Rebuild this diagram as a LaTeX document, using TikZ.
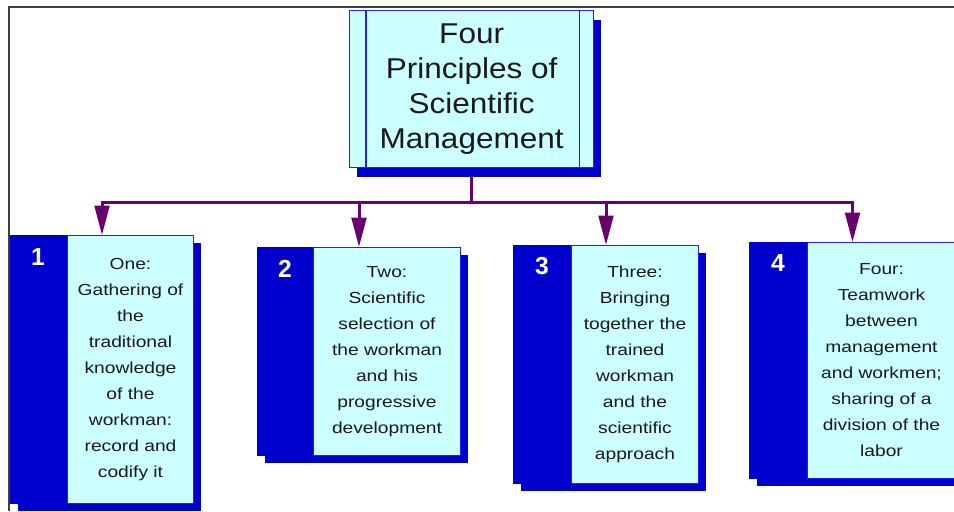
\documentclass[tikz,border=0pt]{standalone}
\usepackage{fontspec}
\setmainfont{Liberation Sans}
\newfontfamily\titlefont[FakeStretch=1.1]{Liberation Sans}
\newfontfamily\itemfont[FakeStretch=1.2]{Liberation Sans}
\usetikzlibrary{arrows.meta,shadows,calc,backgrounds}

\definecolor{tabblue}{RGB}{0,0,204}
\definecolor{paleblue}{RGB}{204,255,255}
\definecolor{edgeblue}{RGB}{30,30,255}
\definecolor{linkpurple}{RGB}{104,0,110}

\tikzset{
  pageframe/.style={line width=1.5pt, black!75},
  tabbox/.style={fill=tabblue, draw=tabblue, line width=.75pt, inner sep=0pt, anchor=north west,
    drop shadow={shadow xshift=5.25pt, shadow yshift=-5.25pt, fill=tabblue, opacity=1}},
  itembox/.style={fill=paleblue, draw=edgeblue, line width=.75pt, anchor=north east, align=center,
    inner sep=2pt, text=black!90, font=\itemfont\fontsize{12}{19.5}\selectfont},
  numlabel/.style={text=white, font=\bfseries\fontsize{18.5}{18.5}\selectfont},
  titlebox/.style={fill=paleblue, draw=edgeblue, line width=1pt, anchor=north west, align=center,
    minimum width=183pt, minimum height=117.75pt, text=black!90,
    font=\titlefont\fontsize{21.5}{26.25}\selectfont,
    drop shadow={shadow xshift=5.25pt, shadow yshift=-6.75pt, fill=tabblue, opacity=1}},
  link/.style={draw=linkpurple, line width=2.25pt},
  linkarrow/.style={link, -{Triangle[length=22pt,width=11pt]}}
}

\begin{document}
\begin{tikzpicture}[x=0.75pt,y=-0.75pt]
    \useasboundingbox (0,0) rectangle (954,511);
    \draw[pageframe] (9,511) -- (9,7) -- (954,7);

    % title
    \node[titlebox] (top) at (349,10) {Four\\Principles of\\Scientific\\Management};
    \draw[edgeblue, line width=1pt] ($(top.north west)+(17,0)$) -- ($(top.south west)+(17,0)$);
    \draw[edgeblue, line width=1pt] ($(top.north east)+(-15,0)$) -- ($(top.south east)+(-15,0)$);

    % the four principles
    \node[tabbox, minimum width=137.25pt, minimum height=201pt] (p1) at (10,235) {};
    \node[itembox, minimum width=94.5pt, minimum height=201pt] (t1) at (p1.north east)
        {One:\\Gathering of\\the\\traditional\\knowledge\\of the\\workman:\\record and\\codify it};
    \node[numlabel] (n1) at ($(p1.north west)+(28,22)$) {1};

    \node[tabbox, minimum width=152.25pt, minimum height=156pt] (p2) at (257,247) {};
    \node[itembox, minimum width=110.25pt, minimum height=156pt] (t2) at (p2.north east)
        {Two:\\Scientific\\selection of\\the workman\\and his\\progressive\\development};
    \node[numlabel] (n2) at ($(p2.north west)+(28,22)$) {2};

    \node[tabbox, minimum width=138.75pt, minimum height=178.5pt] (p3) at (513,245) {};
    \node[itembox, minimum width=95.25pt, minimum height=178.5pt] (t3) at (p3.north east)
        {Three:\\Bringing\\together the\\trained\\workman\\and the\\scientific\\approach};
    \node[numlabel] (n3) at ($(p3.north west)+(29,21)$) {3};

    \node[tabbox, minimum width=154.5pt, minimum height=177pt] (p4) at (749,242) {};
    \node[itembox, minimum width=111pt, minimum height=177pt] (t4) at (p4.north east)
        {Four:\\Teamwork\\between\\management\\and workmen;\\sharing of a\\division of the\\labor};
    \node[numlabel] (n4) at ($(p4.north west)+(29,21)$) {4};

    % connectors
    \coordinate (bar) at (top.south |- 0,202);
    \begin{scope}[on background layer]
    \draw[link] (top.south) -- (bar);
    \draw[linkarrow] (bar) -| (p1.north);
    \draw[linkarrow] (bar) -| (p2.north);
    \draw[linkarrow] (bar) -| (p3.north);
    \draw[linkarrow] (bar) -| (p4.north);
    \end{scope}
\end{tikzpicture}
\end{document}
